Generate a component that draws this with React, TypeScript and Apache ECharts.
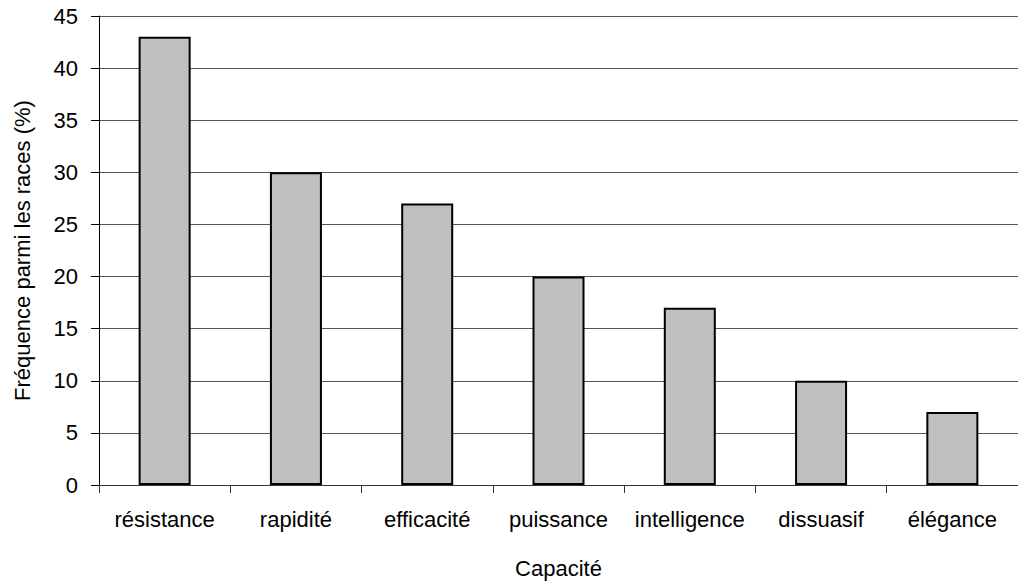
import React, { useEffect, useRef } from "react";
import * as echarts from "echarts";

const categories = ["résistance", "rapidité", "efficacité", "puissance", "intelligence", "dissuasif", "élégance"];
const values = [43, 30, 27, 20, 17, 10, 7];
const yTicks = { min: 0, max: 45, interval: 5 };
const xTitle = "Capacité";
const yTitle = "Fréquence parmi les races (%)";

export default function App() {
  const ref = useRef<HTMLDivElement>(null);
  useEffect(() => {
    if (!ref.current) return;
    const chart = echarts.init(ref.current, null, { renderer: "svg" });
    const font = "'Liberation Sans', Arial, sans-serif";
    chart.setOption({
      animation: false,
      backgroundColor: "#ffffff",
      grid: { left: 99, top: 16, width: 924, height: 469, containLabel: false },
      xAxis: {
        type: "category",
        data: categories,
        name: xTitle,
        nameLocation: "middle",
        nameGap: 72,
        nameTextStyle: { fontFamily: font, fontSize: 22, color: "#000" },
        axisLine: { lineStyle: { color: "#333", width: 1 } },
        axisTick: { show: true, length: 8, lineStyle: { color: "#333" } },
        axisLabel: { fontFamily: font, fontSize: 22, color: "#000", margin: 23, interval: 0 },
        splitLine: { show: false },
      },
      yAxis: {
        type: "value",
        min: yTicks.min,
        max: yTicks.max,
        interval: yTicks.interval,
        name: yTitle,
        nameLocation: "middle",
        nameGap: 66,
        nameTextStyle: { fontFamily: font, fontSize: 22, color: "#000" },
        axisLine: { show: true, lineStyle: { color: "#000", width: 1 } },
        axisTick: { show: true, length: 8, lineStyle: { color: "#000" } },
        axisLabel: { fontFamily: font, fontSize: 22, color: "#000", margin: 21 },
        splitLine: { show: true, lineStyle: { color: "#555", width: 1 } },
      },
      series: [
        {
          type: "bar",
          data: values,
          barWidth: 52,
          itemStyle: { color: "#C0C0C0", borderColor: "#000", borderWidth: 2 },
        },
      ],
    });
    return () => chart.dispose();
  }, []);
  return (
    <div
      ref={ref}
      style={{ position: "fixed", left: 0, top: 0, width: 1018, height: 586, background: "#fff" }}
    />
  );
}
